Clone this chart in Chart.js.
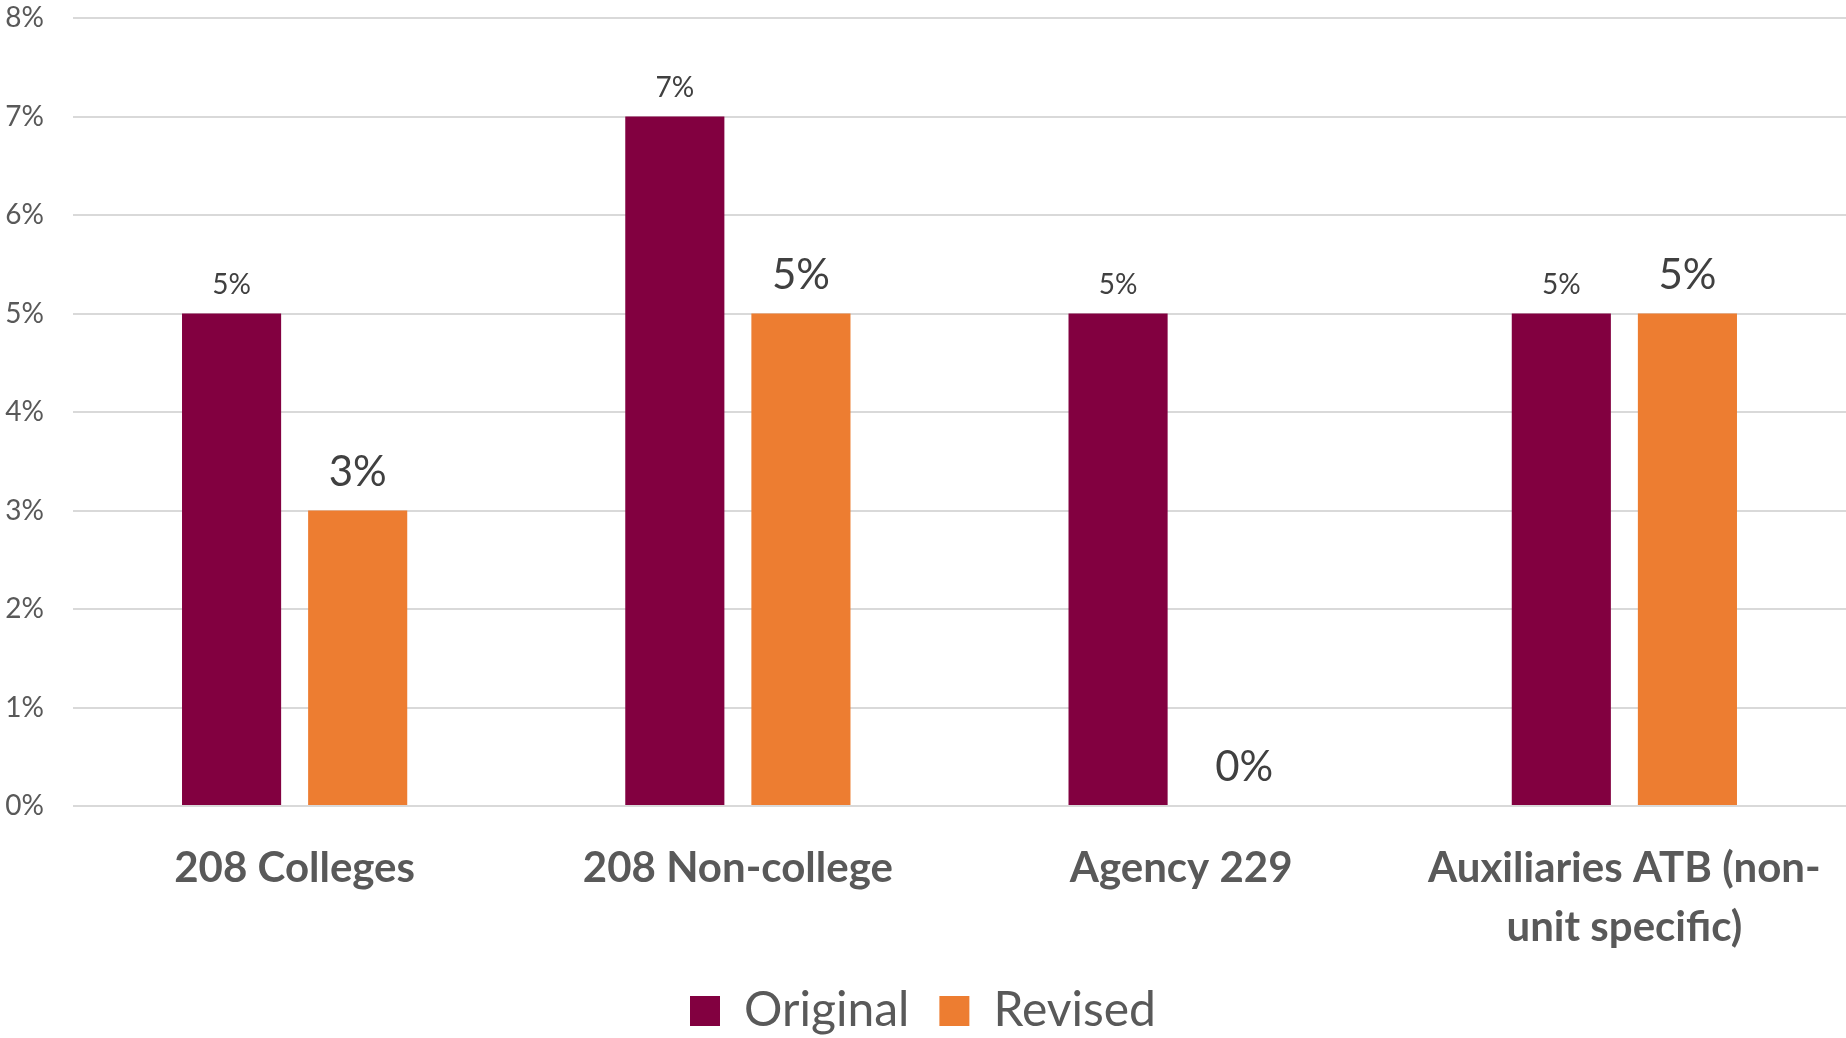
<!DOCTYPE html>
<html>
<head>
<meta charset="utf-8">
<script src="https://cdn.jsdelivr.net/npm/chart.js@4.4.1/dist/chart.umd.min.js"></script>
<style>
  html, body { margin: 0; padding: 0; background: #ffffff; }
  #wrap { width: 1846px; height: 1038px; }
</style>
</head>
<body>
<div id="wrap"><canvas id="c" width="1846" height="1038"></canvas></div>
<script>
const categories = ["208 Colleges", "208 Non-college", "Agency 229", ["Auxiliaries ATB (non-", "unit specific)"]];
const originalValues = [5, 7, 5, 5];
const revisedValues = [3, 5, 0, 5];
const seriesNames = ["Original", "Revised"];
const yTicks = [0, 1, 2, 3, 4, 5, 6, 7, 8];

const COLOR_ORIG = "#820040";
const COLOR_REV = "#ED7D31";
const TEXT = "#595959";
const FONT = "Lato, 'Open Sans', sans-serif";

const labelSizes = [28, 42];

const dataLabels = {
  id: 'dataLabels',
  afterDatasetsDraw(chart) {
    const ctx = chart.ctx;
    ctx.save();
    chart.data.datasets.forEach((ds, di) => {
      const meta = chart.getDatasetMeta(di);
      meta.data.forEach((bar, i) => {
        const v = ds.data[i];
        const size = labelSizes[di];
        ctx.font = size + "px " + FONT;
        ctx.fillStyle = "#404040";
        ctx.textAlign = "center";
        ctx.textBaseline = "alphabetic";
        const off = di === 0 ? 20 : 25;
        ctx.fillText(v + "%", bar.x, bar.y - off);
      });
    });
    ctx.restore();
  }
};

new Chart(document.getElementById('c'), {
  type: 'bar',
  data: {
    labels: categories,
    datasets: [
      { label: seriesNames[0], data: originalValues, backgroundColor: COLOR_ORIG, borderWidth: 0,
        categoryPercentage: 0.569, barPercentage: 0.786 },
      { label: seriesNames[1], data: revisedValues, backgroundColor: COLOR_REV, borderWidth: 0,
        categoryPercentage: 0.569, barPercentage: 0.786 }
    ]
  },
  options: {
    responsive: false,
    animation: false,
    devicePixelRatio: 1,
    layout: { padding: { top: 18, right: 0, bottom: -7, left: 0 } },
    plugins: {
      legend: {
        position: 'bottom',
        labels: {
          font: { family: FONT, size: 48 },
          color: TEXT,
          boxWidth: 30,
          boxHeight: 30,
          padding: 30
        }
      },
      tooltip: { enabled: false }
    },
    scales: {
      x: {
        grid: { display: false, drawTicks: false },
        border: { display: false },
        ticks: {
          color: TEXT,
          font: { family: FONT, size: 42, weight: 'bold', lineHeight: 1.4 },
          padding: 33,
          maxRotation: 0,
          autoSkip: false
        },
        afterFit(scale) { scale.height = 151; scale.paddingLeft = 0; scale.paddingRight = 0; }
      },
      y: {
        min: 0,
        max: 8,
        grid: { color: "#D9D9D9", lineWidth: 2, drawTicks: false },
        border: { display: false },
        afterBuildTicks(scale) { scale.ticks = yTicks.map(v => ({ value: v })); },
        ticks: {
          color: TEXT,
          font: { family: FONT, size: 28 },
          padding: 29,
          callback: (v) => v + "%"
        },
        afterFit(scale) { scale.width = 73; scale.paddingTop = 0; scale.paddingBottom = 0; }
      }
    }
  },
  plugins: [dataLabels]
});
</script>
</body>
</html>
